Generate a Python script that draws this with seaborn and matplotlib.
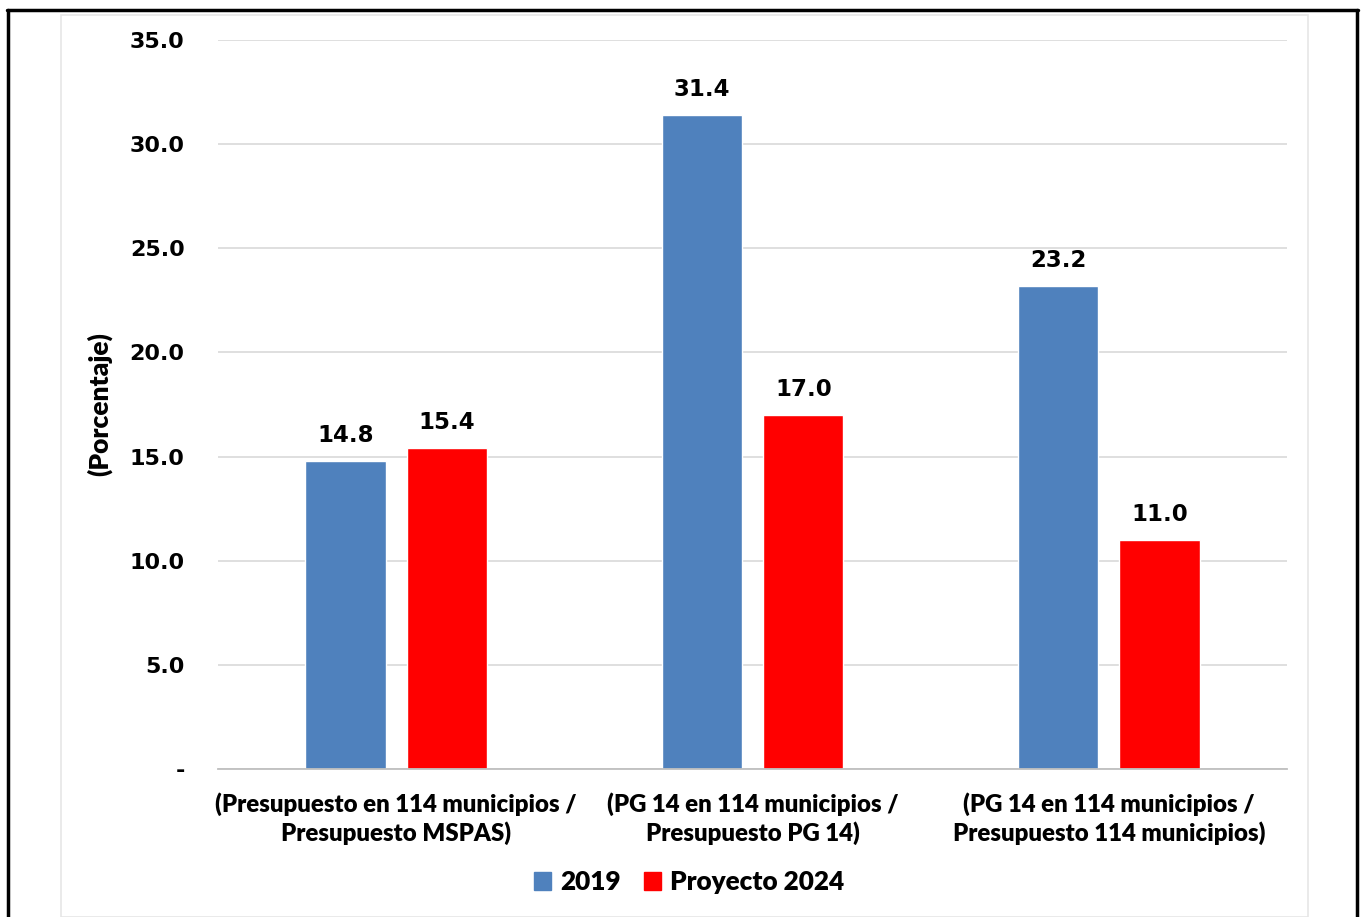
import matplotlib
matplotlib.use("Agg")
import matplotlib.pyplot as plt
import seaborn as sns
import pandas as pd
from matplotlib.patches import Rectangle

categories = ["(Presupuesto en 114 municipios /\nPresupuesto MSPAS)",
              "(PG 14 en 114 municipios /\nPresupuesto PG 14)",
              "(PG 14 en 114 municipios /\nPresupuesto 114 municipios)"]
series_names = ["2019", "Proyecto 2024"]
values_2019 = [14.8, 31.4, 23.2]
values_2024 = [15.4, 17.0, 11.0]
y_ticks = [0, 5, 10, 15, 20, 25, 30, 35]
y_ticklabels = ["-", "5.0", "10.0", "15.0", "20.0", "25.0", "30.0", "35.0"]
colors = ["#4F81BD", "#FF0000"]

df = pd.DataFrame({
    "cat": categories * 2,
    "serie": [series_names[0]] * 3 + [series_names[1]] * 3,
    "val": values_2019 + values_2024,
})

sns.set_style("white")
plt.rcParams.update({"text.color": "black", "xtick.color": "black", "ytick.color": "black",
                     "axes.labelcolor": "black"})
fig = plt.figure(figsize=(13.64, 9.17), dpi=100)
ax = fig.add_axes([218 / 1364, 1 - 769 / 917, (1287 - 218) / 1364, (769 - 40) / 917])

sns.barplot(data=df, x="cat", y="val", hue="serie", palette=colors,
            width=0.57, gap=0.21, ax=ax, legend=False, saturation=1)

ax.set_ylim(0, 35)
ax.set_xlim(-0.5, 2.5)
ax.set_yticks(y_ticks)
ax.set_yticklabels(y_ticklabels, fontfamily="DejaVu Sans", fontweight="bold", fontsize=16)
ax.tick_params(axis="y", length=0, pad=24)
ax.tick_params(axis="x", length=0, pad=17)
for lab in ax.get_xticklabels():
    lab.set_fontfamily("Lato")
    lab.set_fontweight("heavy")
    lab.set_fontsize(17.3)
    lab.set_linespacing(1.25)
ax.set_xlabel("")
ax.set_ylabel("(Porcentaje)", fontfamily="Lato", fontweight="heavy", fontsize=19)
ax.yaxis.set_label_coords(-0.099, 0.5)

ax.grid(axis="y", color="#D9D9D9", linewidth=1.2)
ax.set_axisbelow(True)
for s in ["top", "right", "left"]:
    ax.spines[s].set_visible(False)
ax.spines["bottom"].set_color("#BFBFBF")
ax.spines["bottom"].set_linewidth(1.3)

for cont in ax.containers:
    ax.bar_label(cont, fmt="%.1f", padding=10, fontfamily="DejaVu Sans",
                 fontweight="bold", fontsize=16.5)

# legend
handles = [Rectangle((0, 0), 1, 1, color=c) for c in colors]
leg = fig.legend(handles, series_names, loc="center", bbox_to_anchor=(689 / 1364, 1 - 882 / 917),
                 ncol=2, frameon=False, prop={"family": "Lato", "weight": "heavy", "size": 18.8},
                 handlelength=0.65, handleheight=0.65, handletextpad=0.35, columnspacing=0.9)

# frames
fig.patches.append(Rectangle((61 / 1364, 0.0 / 917), (1308 - 61) / 1364, (917 - 15) / 917,
                             transform=fig.transFigure, fill=False, edgecolor="#E6E6E6", linewidth=1.2))
fig.add_artist(plt.Line2D([7.5 / 1364, 7.5 / 1364], [0, 1 - 10 / 917], transform=fig.transFigure, color="black", linewidth=2.5))
fig.add_artist(plt.Line2D([1356.5 / 1364, 1356.5 / 1364], [0, 1 - 10 / 917], transform=fig.transFigure, color="black", linewidth=2.5))
fig.add_artist(plt.Line2D([6.5 / 1364, 1357.5 / 1364], [1 - 10 / 917, 1 - 10 / 917], transform=fig.transFigure, color="black", linewidth=2.5))

fig.savefig("out.png", dpi=100)
